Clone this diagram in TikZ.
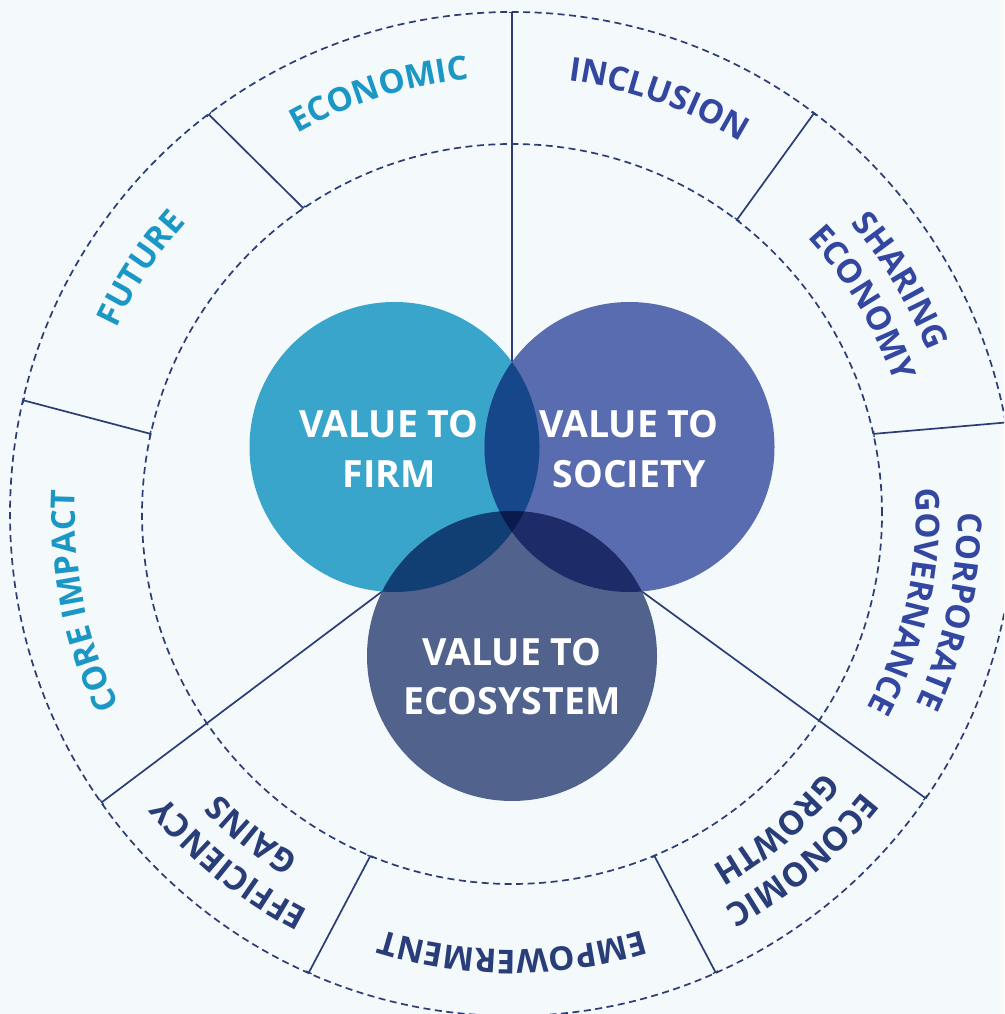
\documentclass[tikz,border=0pt]{standalone}
\usepackage{fontspec}
\setsansfont{Open Sans}
\usetikzlibrary{calc,decorations.text,arrows.meta}
\definecolor{bg}{HTML}{F4F9FC}
\definecolor{navy}{HTML}{2C3D76}
\definecolor{firmC}{HTML}{39A5CB}
\definecolor{socC}{HTML}{5A6CB0}
\definecolor{ecoC}{HTML}{51638D}
\definecolor{fsC}{HTML}{17478B}
\definecolor{feC}{HTML}{123F73}
\definecolor{seC}{HTML}{1D2B68}
\definecolor{fseC}{HTML}{0A1A4F}
\definecolor{cyanT}{HTML}{1A97C4}
\definecolor{blueT}{HTML}{3346A0}
\definecolor{darkT}{HTML}{293D78}
\newcommand\ringfont{\sffamily\bfseries\fontsize{33}{33}\selectfont}
\newcommand\ringlabel[4]{%
  \path[decorate,decoration={text along path,text align=center,text color=#3,text={|\ringfont|#4}}]
    ($(C)+(#1+35:#2)$) arc[start angle=#1+35,end angle=#1-35,radius=#2];}
\begin{document}
\begin{tikzpicture}[x=1pt,y=1pt,
  ringline/.style={navy,line width=1.7pt,dash pattern=on 7pt off 4.5pt},
  divider/.style={navy,line width=1.7pt},
  venntext/.style={text=white,font=\sffamily\bfseries\fontsize{37.5}{37.5}\selectfont,inner sep=0pt,anchor=base}]
\fill[bg] (0,0) rectangle (1004,1014);
\useasboundingbox (0,0) rectangle (1004,1014);
\clip (0,0) rectangle (1004,1014);
\coordinate (C) at (512,500);
\coordinate (Fc) at (394.5,567);
\coordinate (Sc) at (629.5,567);
\coordinate (Ec) at (512,358);
% ring circles
\draw[ringline] (C) circle[radius=502];
\draw[ringline] (C) circle[radius=370];
% venn intersection points
\coordinate (FStop) at (512,652);
\coordinate (FEout) at (382.2,422.6);
\coordinate (SEout) at (641.8,422.6);
% outer ends of long lines
\coordinate (oTop) at ($(C)+(90:502)$);
\coordinate (oLL) at ($(C)+(215.1:502)$);
\coordinate (oLR) at ($(C)+(-34.5:502)$);
\draw[divider,-{Bar[width=6pt,line width=1.3pt]}] (FStop) -- (oTop);
\draw[divider,-{Bar[width=6pt,line width=1.3pt]}] (FEout) -- (oLL);
\draw[divider,-{Bar[width=6pt,line width=1.3pt]}] (SEout) -- (oLR);
% short dividers
\foreach \n/\ai/\ao in {a/124.3/127.2, b/167.5/166.9, c/247.5/246.1, d/292.6/293.95, e/12.5/10.5, f/52.6/53.0}{
  \coordinate (i\n) at ($(C)+(\ai:370)$);
  \coordinate (o\n) at ($(C)+(\ao:502)$);
  \draw[divider,{Bar[width=6pt,line width=1.3pt]}-{Bar[width=6pt,line width=1.3pt]}] (i\n) -- (o\n);
}
% venn circles
\fill[firmC] (Fc) circle[radius=145];
\fill[socC] (Sc) circle[radius=145];
\fill[ecoC] (Ec) circle[radius=145];
\begin{scope}
  \clip (Fc) circle[radius=145];
  \fill[fsC] (Sc) circle[radius=145];
  \fill[feC] (Ec) circle[radius=145];
\end{scope}
\begin{scope}
  \clip (Sc) circle[radius=145];
  \fill[seC] (Ec) circle[radius=145];
\end{scope}
\begin{scope}
  \clip (Fc) circle[radius=145];
  \clip (Sc) circle[radius=145];
  \fill[fseC] (Ec) circle[radius=145];
\end{scope}
% venn texts
\node[venntext] (firmA) at (389,576) {VALUE TO};
\node[venntext] (firmB) at (389,526) {FIRM};
\node[venntext] (socA) at (629,576) {VALUE TO};
\node[venntext] (socB) at (629,526) {SOCIETY};
\node[venntext] (ecoA) at (512,348) {VALUE TO};
\node[venntext] (ecoB) at (512,299) {ECOSYSTEM};
% ring labels
\ringlabel{107.5}{437}{cyanT}{ECONOMIC}
\ringlabel{70.5}{437}{blueT}{INCLUSION}
\ringlabel{146.5}{437}{cyanT}{FUTURE}
\ringlabel{191.5}{437}{cyanT}{CORE IMPACT}
\ringlabel{270}{436}{darkT}{EMPOWERMENT}
\ringlabel{31}{446}{blueT}{SHARING}
\ringlabel{31}{404}{blueT}{ECONOMY}
\ringlabel{347.5}{446}{blueT}{CORPORATE}
\ringlabel{347.5}{404}{blueT}{GOVERNANCE}
\ringlabel{310}{447}{darkT}{ECONOMIC}
\ringlabel{310}{405}{darkT}{GROWTH}
\ringlabel{231}{446}{darkT}{EFFICIENCY}
\ringlabel{231}{404}{darkT}{GAINS}
\end{tikzpicture}
\end{document}
